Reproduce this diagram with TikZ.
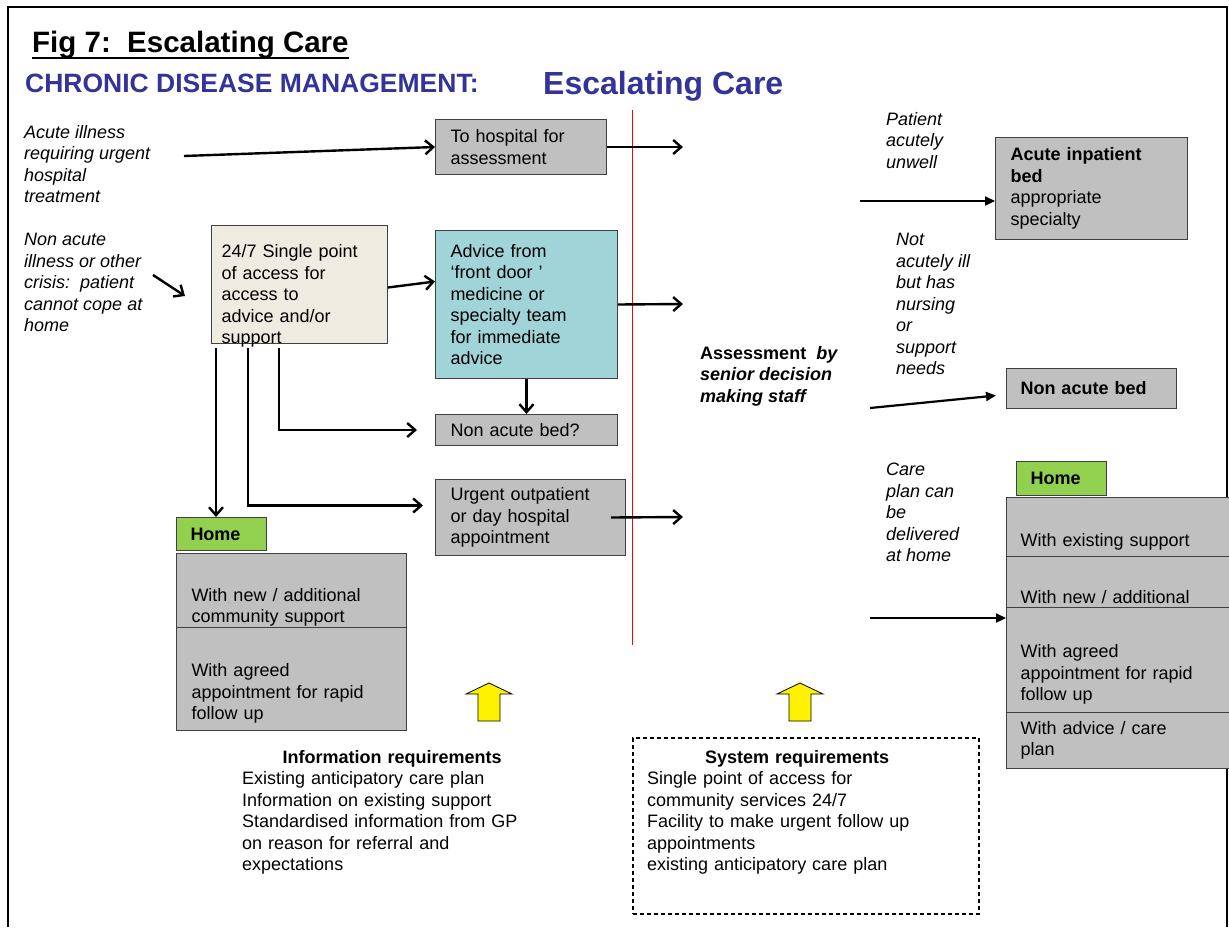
\documentclass[tikz,border=0pt]{standalone}
\usepackage{fontspec}
\setmainfont{Liberation Sans}
\usepackage{tikz}
\usetikzlibrary{arrows.meta}
\usetikzlibrary{scopes}

\definecolor{boxgray}{HTML}{C0C0C0}
\definecolor{spabeige}{HTML}{EEECE1}
\definecolor{advteal}{HTML}{A0D4D8}
\definecolor{homegreen}{HTML}{92D050}
\definecolor{cdmblue}{HTML}{333399}

\newcommand{\bodysize}{\fontsize{18}{21.5}\selectfont}
\newcommand{\blankline}{\rule{0pt}{21pt}\\}

\tikzset{
  box/.style={draw=black!75, line width=1pt, fill=boxgray, inner xsep=15pt,
              inner ysep=0pt, align=left, anchor=north west, font=\bodysize},
  lbl/.style={inner sep=0pt, align=left, anchor=north west, font=\bodysize\itshape},
  reqtext/.style={inner sep=0pt, align=left, anchor=north west, text width=300pt, font=\bodysize}
}

\begin{document}
\begin{tikzpicture}[x=1pt,y=-1pt]
\useasboundingbox (0,0) rectangle (1229,927);

% frame
\draw[line width=2.5pt] (8,927) -- (8,7) -- (1227,7) -- (1227,927);

% headings
\node[inner sep=0pt, anchor=base west, font=\fontsize{29.5}{33}\selectfont\bfseries] (ttl) at (32,52) {Fig 7:\ \ Escalating Care};
\draw[line width=2.5pt] ([yshift=-6pt]ttl.base west) -- ([yshift=-6pt]ttl.base east);
\node[inner sep=0pt, anchor=base west, text=cdmblue, font=\fontsize{26.5}{29}\selectfont\bfseries] (cdm) at (25,92) {CHRONIC DISEASE MANAGEMENT:};
\node[inner sep=0pt, anchor=base west, text=cdmblue, font=\fontsize{32}{35}\selectfont\bfseries] (esc) at (543,94) {Escalating Care};

% red divide
\draw[red, line width=0.8pt] (632,110) -- (632,645);

% left side labels
\node[lbl] (acu) at (24,125) {Acute illness\\requiring urgent\\hospital\\treatment};
\node[lbl] (nacu) at (24,233) {Non acute\\illness or other\\crisis:\ \ patient\\cannot cope at\\home};

% left boxes
\begin{scope}[every node/.style={box}]
    \node[text width=141pt, minimum height=55pt] (hosp) at (435,119) {To hospital for\\assessment};
    \node[fill=spabeige, inner xsep=10pt, text width=156pt, text height=32pt, text depth=86pt] (spa) at (211,225) {24/7 Single point\\of access for\\access to\\advice and/or\\support};
    \node[fill=advteal, text width=152pt, minimum height=148pt] (adv) at (435,230) {Advice from\\‘front door ’\\medicine or\\specialty team\\for immediate\\advice};
    \node[text width=152pt, minimum height=31pt] (nab) at (435,414) {Non acute bed?};
    \node[text width=160pt, minimum height=76pt] (urg) at (435,479) {Urgent outpatient\\or day hospital\\appointment};
    \node[fill=homegreen, inner xsep=14pt, text width=62pt, minimum height=33pt, font=\bodysize\bfseries] (home1) at (176,517) {Home};
    \node[text width=200pt, minimum height=74pt] (hl1) at (176,553) {\rule{0pt}{25pt}\\With new / additional\\community support};
    \node[text width=200pt, minimum height=103pt] (hl2) at (176,627) {\blankline With agreed\\appointment for rapid\\follow up};
\end{scope}

% right side labels
\node[lbl] (pau) at (886,112) {Patient\\acutely\\unwell};
\node[lbl] (nai) at (896,233) {Not\\acutely ill\\but has\\nursing\\or\\support\\needs};
\node[lbl] (cpl) at (886,463) {Care\\plan can\\be\\delivered\\at home};
\node[lbl, font=\bodysize\bfseries] (asm) at (700,346) {Assessment\ \ \textit{by}\\\textit{senior decision}\\\textit{making staff}};

% right boxes
\begin{scope}[every node/.style={box, inner xsep=14pt}]
    \node[inner xsep=15pt, text width=162pt, minimum height=102pt] (aib) at (995,137) {\textbf{Acute inpatient}\\\textbf{bed}\\appropriate\\specialty};
    \node[text width=142pt, minimum height=40pt, font=\bodysize\bfseries] (nabr) at (1006,368) {Non acute bed};
    \node[fill=homegreen, text width=62pt, minimum height=34pt, font=\bodysize\bfseries] (home2) at (1016,461) {Home};
    \node[text width=198pt, minimum height=59pt] (hr1) at (1006,497) {\blankline With existing support};
    \node[text width=198pt, minimum height=51pt] (hr2) at (1006,556) {\blankline With new / additional};
    \node[text width=198pt, minimum height=105pt] (hr3) at (1006,607) {\blankline With agreed\\appointment for rapid\\follow up};
    \node[text width=198pt, minimum height=56pt] (hr4) at (1006,712) {With advice / care\\plan};
\end{scope}

% requirements
\foreach \ax in {489,800}
    \draw[fill=yellow, line width=0.8pt] (\ax,683) -- ++(23,11) -- ++(-12,0) -- ++(0,27)
        -- ++(-22,0) -- ++(0,-27) -- ++(-12,0) -- cycle;
\node[reqtext] (infotxt) at (242,750) {\makebox[\linewidth]{\bfseries Information requirements}\\Existing anticipatory care plan\\Information on existing support\\Standardised information from GP\\on reason for referral and\\expectations};
\node[draw, dash pattern=on 4pt off 3pt, line width=1.5pt, minimum width=346pt, minimum height=176pt, anchor=north west] (sysbox) at (632,737) {};
\node[reqtext] (systxt) at (647,750) {\makebox[\linewidth]{\bfseries System requirements}\\Single point of access for\\community services 24/7\\Facility to make urgent follow up\\appointments\\existing anticipatory care plan};

% left arrows
\begin{scope}[>={Straight Barb[length=8pt,width=14pt]}, line width=2.4pt]
    \coordinate (a1) at (184,156);
    \coordinate (c1) at (153,275);
    \coordinate (c2) at (185,296);
    \coordinate (h1) at (683,147);
    \coordinate (h2) at (683,304);
    \coordinate (h3) at (683,517);
    \coordinate (s1) at (279,348);
    \coordinate (s2) at (248,348);
    \coordinate (s3) at (216,348);
    \draw[->] (a1) -- (hosp.west);
    \draw[->] (c1) -- (c2);
    \draw[->] ([yshift=-3pt]spa.east) -- ([yshift=23pt]adv.west);
    \draw[->] (hosp.east) -- (h1);
    \draw[->] (adv.east) -- (h2);
    \draw[->] (adv.south) -- (nab.north);
    \draw[->] (s1) |- ([xshift=-18pt]nab.west);
    \draw[->] (s2) |- ([xshift=-12pt,yshift=12pt]urg.west);
    \draw[->] (s3) -- (s3 |- home1.north);
    \draw[->] ([xshift=-15pt]urg.east) -- (h3);
\end{scope}

% right arrows
\begin{scope}[>={Triangle[length=10pt,width=9pt]}, line width=2.2pt]
    \coordinate (r1) at (860,201);
    \coordinate (r2) at (870,408);
    \coordinate (r3) at (870,618);
    \draw[->] (r1) -- (r1 -| aib.west);
    \draw[->] (r2) -- ([xshift=-10pt,yshift=-7pt]nabr.west);
    \draw[->] (r3) -- (r3 -| hr3.west);
\end{scope}
\end{tikzpicture}
\end{document}
